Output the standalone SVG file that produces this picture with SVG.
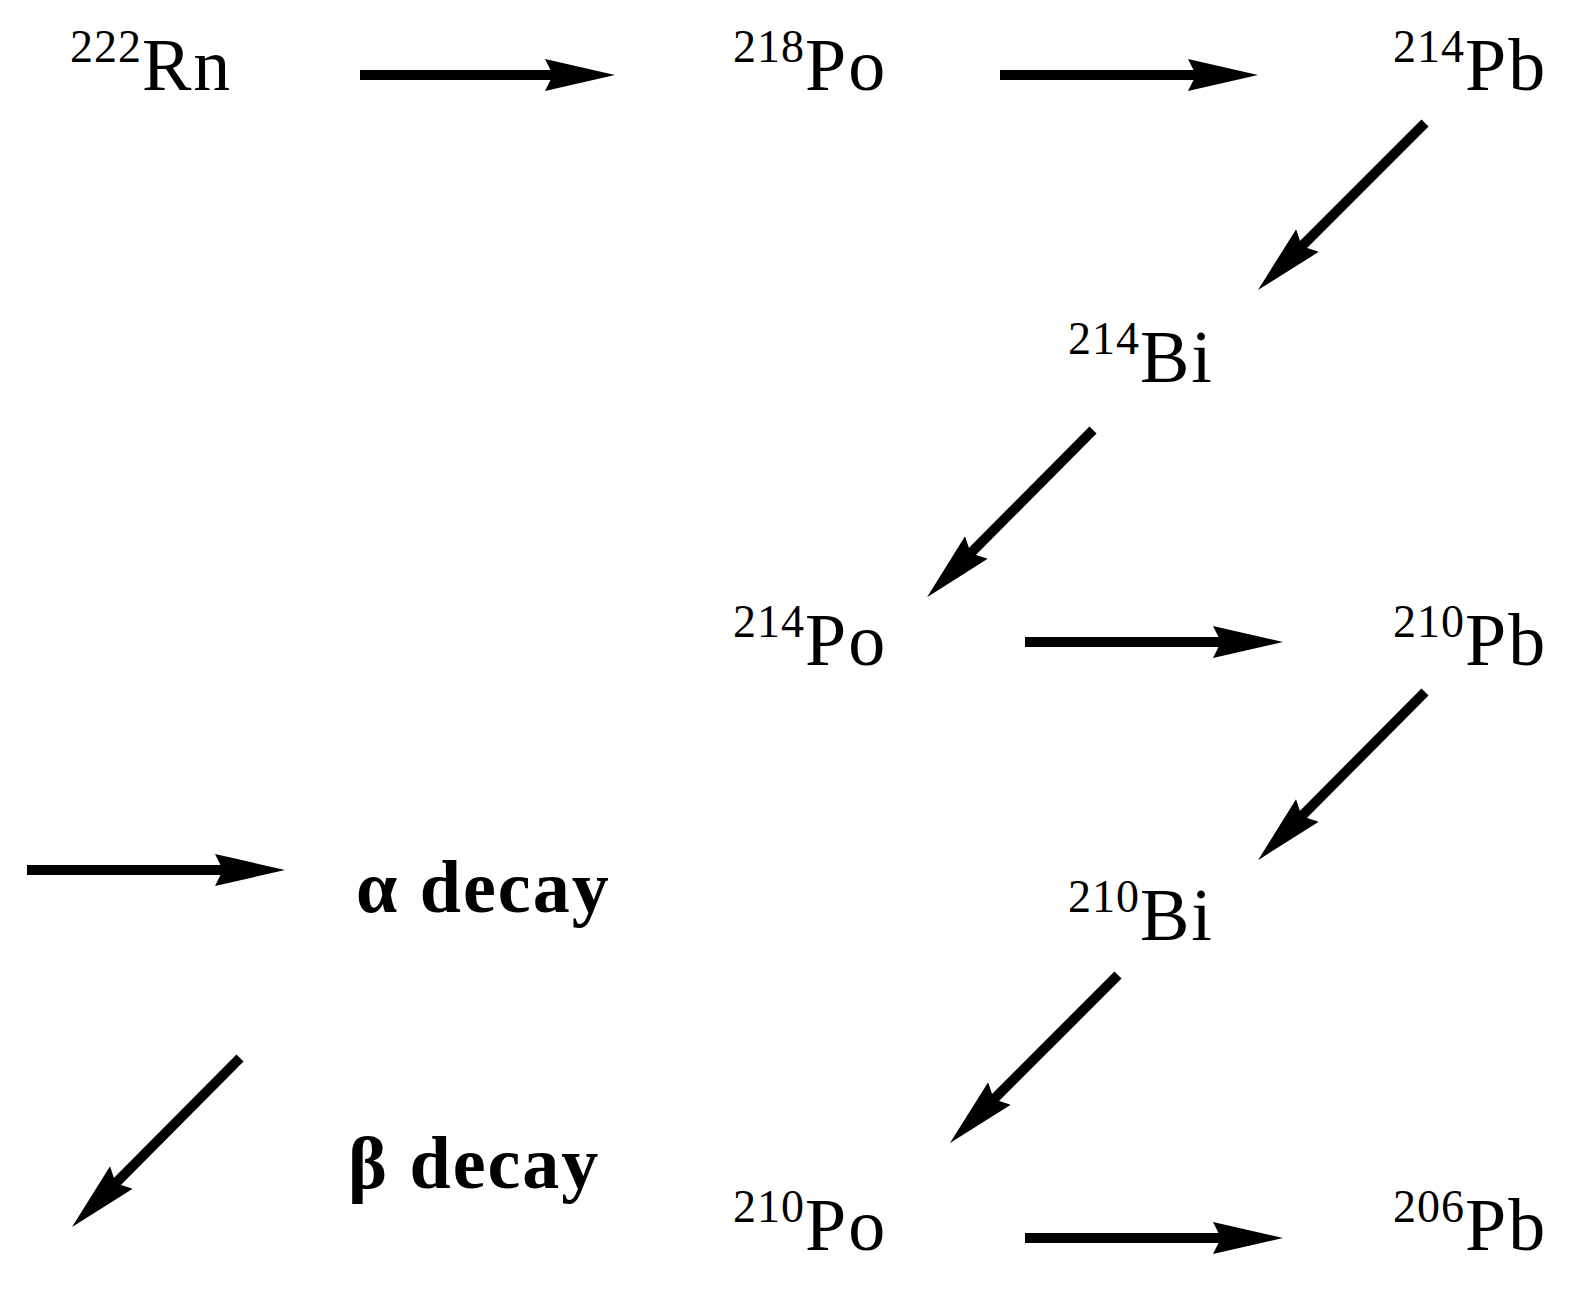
<svg xmlns="http://www.w3.org/2000/svg" width="1576" height="1292" viewBox="0 0 1576 1292">
<style>
text{font-family:"Liberation Serif","Times New Roman",serif;fill:#000}
.n{font-size:74px;letter-spacing:2px}
.s{font-size:46px;letter-spacing:1px}
.l{font-size:74px;font-weight:bold;letter-spacing:2px}
line{stroke:#000;stroke-width:10}
</style>
<defs>
<marker id="ah" markerUnits="userSpaceOnUse" markerWidth="70" markerHeight="34" refX="36" refY="17" orient="auto" viewBox="0 0 70 34">
<path d="M0,1 L70,17 L0,33 L8,17 Z" fill="#000"/>
</marker>
</defs>
<rect width="1576" height="1292" fill="#fff"/>
<g id="rn222"><text class="n" x="70" y="90"><tspan class="s" dy="-28">222</tspan><tspan dy="28">Rn</tspan></text></g>
<g id="po218"><text class="n" x="733" y="90"><tspan class="s" dy="-28">218</tspan><tspan dy="28">Po</tspan></text></g>
<g id="pb214"><text class="n" x="1393" y="90"><tspan class="s" dy="-28">214</tspan><tspan dy="28">Pb</tspan></text></g>
<g id="bi214"><text class="n" x="1068" y="382"><tspan class="s" dy="-28">214</tspan><tspan dy="28">Bi</tspan></text></g>
<g id="po214"><text class="n" x="733" y="665"><tspan class="s" dy="-28">214</tspan><tspan dy="28">Po</tspan></text></g>
<g id="pb210"><text class="n" x="1393" y="665"><tspan class="s" dy="-28">210</tspan><tspan dy="28">Pb</tspan></text></g>
<g id="bi210"><text class="n" x="1068" y="940"><tspan class="s" dy="-28">210</tspan><tspan dy="28">Bi</tspan></text></g>
<g id="po210"><text class="n" x="733" y="1250"><tspan class="s" dy="-28">210</tspan><tspan dy="28">Po</tspan></text></g>
<g id="pb206"><text class="n" x="1393" y="1250"><tspan class="s" dy="-28">206</tspan><tspan dy="28">Pb</tspan></text></g>
<g id="legend">
<text class="l" x="356" y="912">α decay</text>
<text class="l" x="348" y="1188">β decay</text>
</g>
<g id="connectors" marker-end="url(#ah)">
<line x1="360" y1="75" x2="581" y2="75"/>
<line x1="1000" y1="75" x2="1224" y2="75"/>
<line x1="1025" y1="642" x2="1249" y2="642"/>
<line x1="1025" y1="1238" x2="1249" y2="1238"/>
<line x1="27" y1="870" x2="251" y2="870"/>
<line x1="1425" y1="123" x2="1282" y2="266"/>
<line x1="1093" y1="430" x2="951" y2="573"/>
<line x1="1425" y1="692" x2="1282" y2="836"/>
<line x1="1118" y1="975" x2="974" y2="1119"/>
<line x1="240" y1="1058" x2="96" y2="1203"/>
</g>
</svg>
